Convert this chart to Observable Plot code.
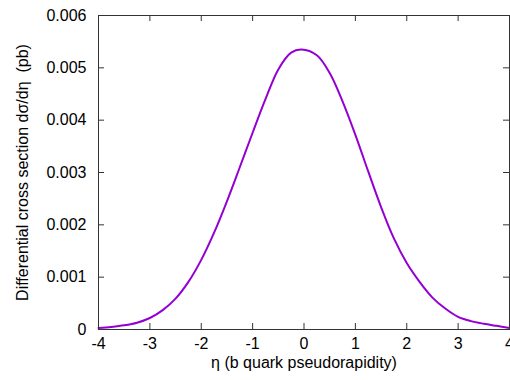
<!DOCTYPE html>
<html>
<head>
<meta charset="utf-8">
<script src="https://cdn.jsdelivr.net/npm/d3@7"></script>
<script src="https://cdn.jsdelivr.net/npm/@observablehq/plot@0.6"></script>
<style>
  html, body { margin: 0; padding: 0; background: #fff; }
  svg { display: block; }
</style>
</head>
<body>
<div id="chart"></div>
<script>
const eta = [-4.0, -3.75, -3.5, -3.25, -3.0, -2.75, -2.5, -2.25, -2.0, -1.75, -1.5, -1.25, -1.0, -0.75, -0.5, -0.25, -0.05, 0.25, 0.5, 0.75, 1.0, 1.25, 1.5, 1.75, 2.0, 2.25, 2.5, 2.75, 3.0, 3.25, 3.5, 3.75, 4.0];
const dsigma = [0.00003, 0.00005, 0.00008, 0.00013, 0.00022, 0.00037, 0.00059, 0.00091, 0.00133, 0.00185, 0.00245, 0.00310, 0.00376, 0.00440, 0.00497, 0.00529, 0.00535, 0.00524, 0.00490, 0.00436, 0.00372, 0.00302, 0.00234, 0.00174, 0.00127, 0.00091, 0.00061, 0.00040, 0.00024, 0.00016, 0.00011, 0.00007, 0.00003];
const xTicks = [-4, -3, -2, -1, 0, 1, 2, 3, 4];
const yTicks = [0, 0.001, 0.002, 0.003, 0.004, 0.005, 0.006];
const xLabel = "η (b quark pseudorapidity)";
const yLabel = "Differential cross section dσ/dη  (pb)";

const data = eta.map((e, i) => ({eta: e, v: dsigma[i]}));

const W = 510, H = 380;
const mL = 98, mR = 1, mT = 15, mB = 51;
const innerW = W - mL - mR, innerH = H - mT - mB;
const tick = 6;
const ink = "#333";

const chart = Plot.plot({
  width: W,
  height: H,
  marginLeft: mL,
  marginRight: mR,
  marginTop: mT,
  marginBottom: mB,
  style: {fontFamily: "'Liberation Sans', Arial, sans-serif", fontSize: "16px", color: "#000", background: "#fff"},
  x: {domain: [-4, 4], ticks: xTicks},
  y: {domain: [0, 0.006], ticks: yTicks},
  marks: [
    Plot.gridX(xTicks, {stroke: ink, strokeOpacity: 1, insetTop: innerH - tick}),
    Plot.gridX(xTicks, {stroke: ink, strokeOpacity: 1, insetBottom: innerH - tick}),
    Plot.gridY(yTicks, {stroke: ink, strokeOpacity: 1, insetRight: innerW - tick}),
    Plot.gridY(yTicks, {stroke: ink, strokeOpacity: 1, insetLeft: innerW - tick}),
    Plot.axisX(xTicks, {tickSize: 0, tickPadding: 8, tickFormat: d => String(d), label: null, fill: "#000", fontSize: 16}),
    Plot.axisY(yTicks, {tickSize: 0, tickPadding: 12, tickFormat: d => d === 0 ? "0" : d.toFixed(3), label: null, fill: "#000", fontSize: 16}),
    Plot.line(data, {x: "eta", y: "v", stroke: "#9400D3", strokeWidth: 2, curve: "catmull-rom"}),
    Plot.frame({stroke: ink, strokeWidth: 1}),
    Plot.text([xLabel], {frameAnchor: "bottom", dy: 33, textAnchor: "middle", lineAnchor: "middle", fill: "#000", fontSize: 16}),
    Plot.text([yLabel], {frameAnchor: "left", dx: -76, rotate: -90, textAnchor: "middle", lineAnchor: "middle", fill: "#000", fontSize: 16})
  ]
});
document.getElementById("chart").appendChild(chart);
</script>
</body>
</html>
